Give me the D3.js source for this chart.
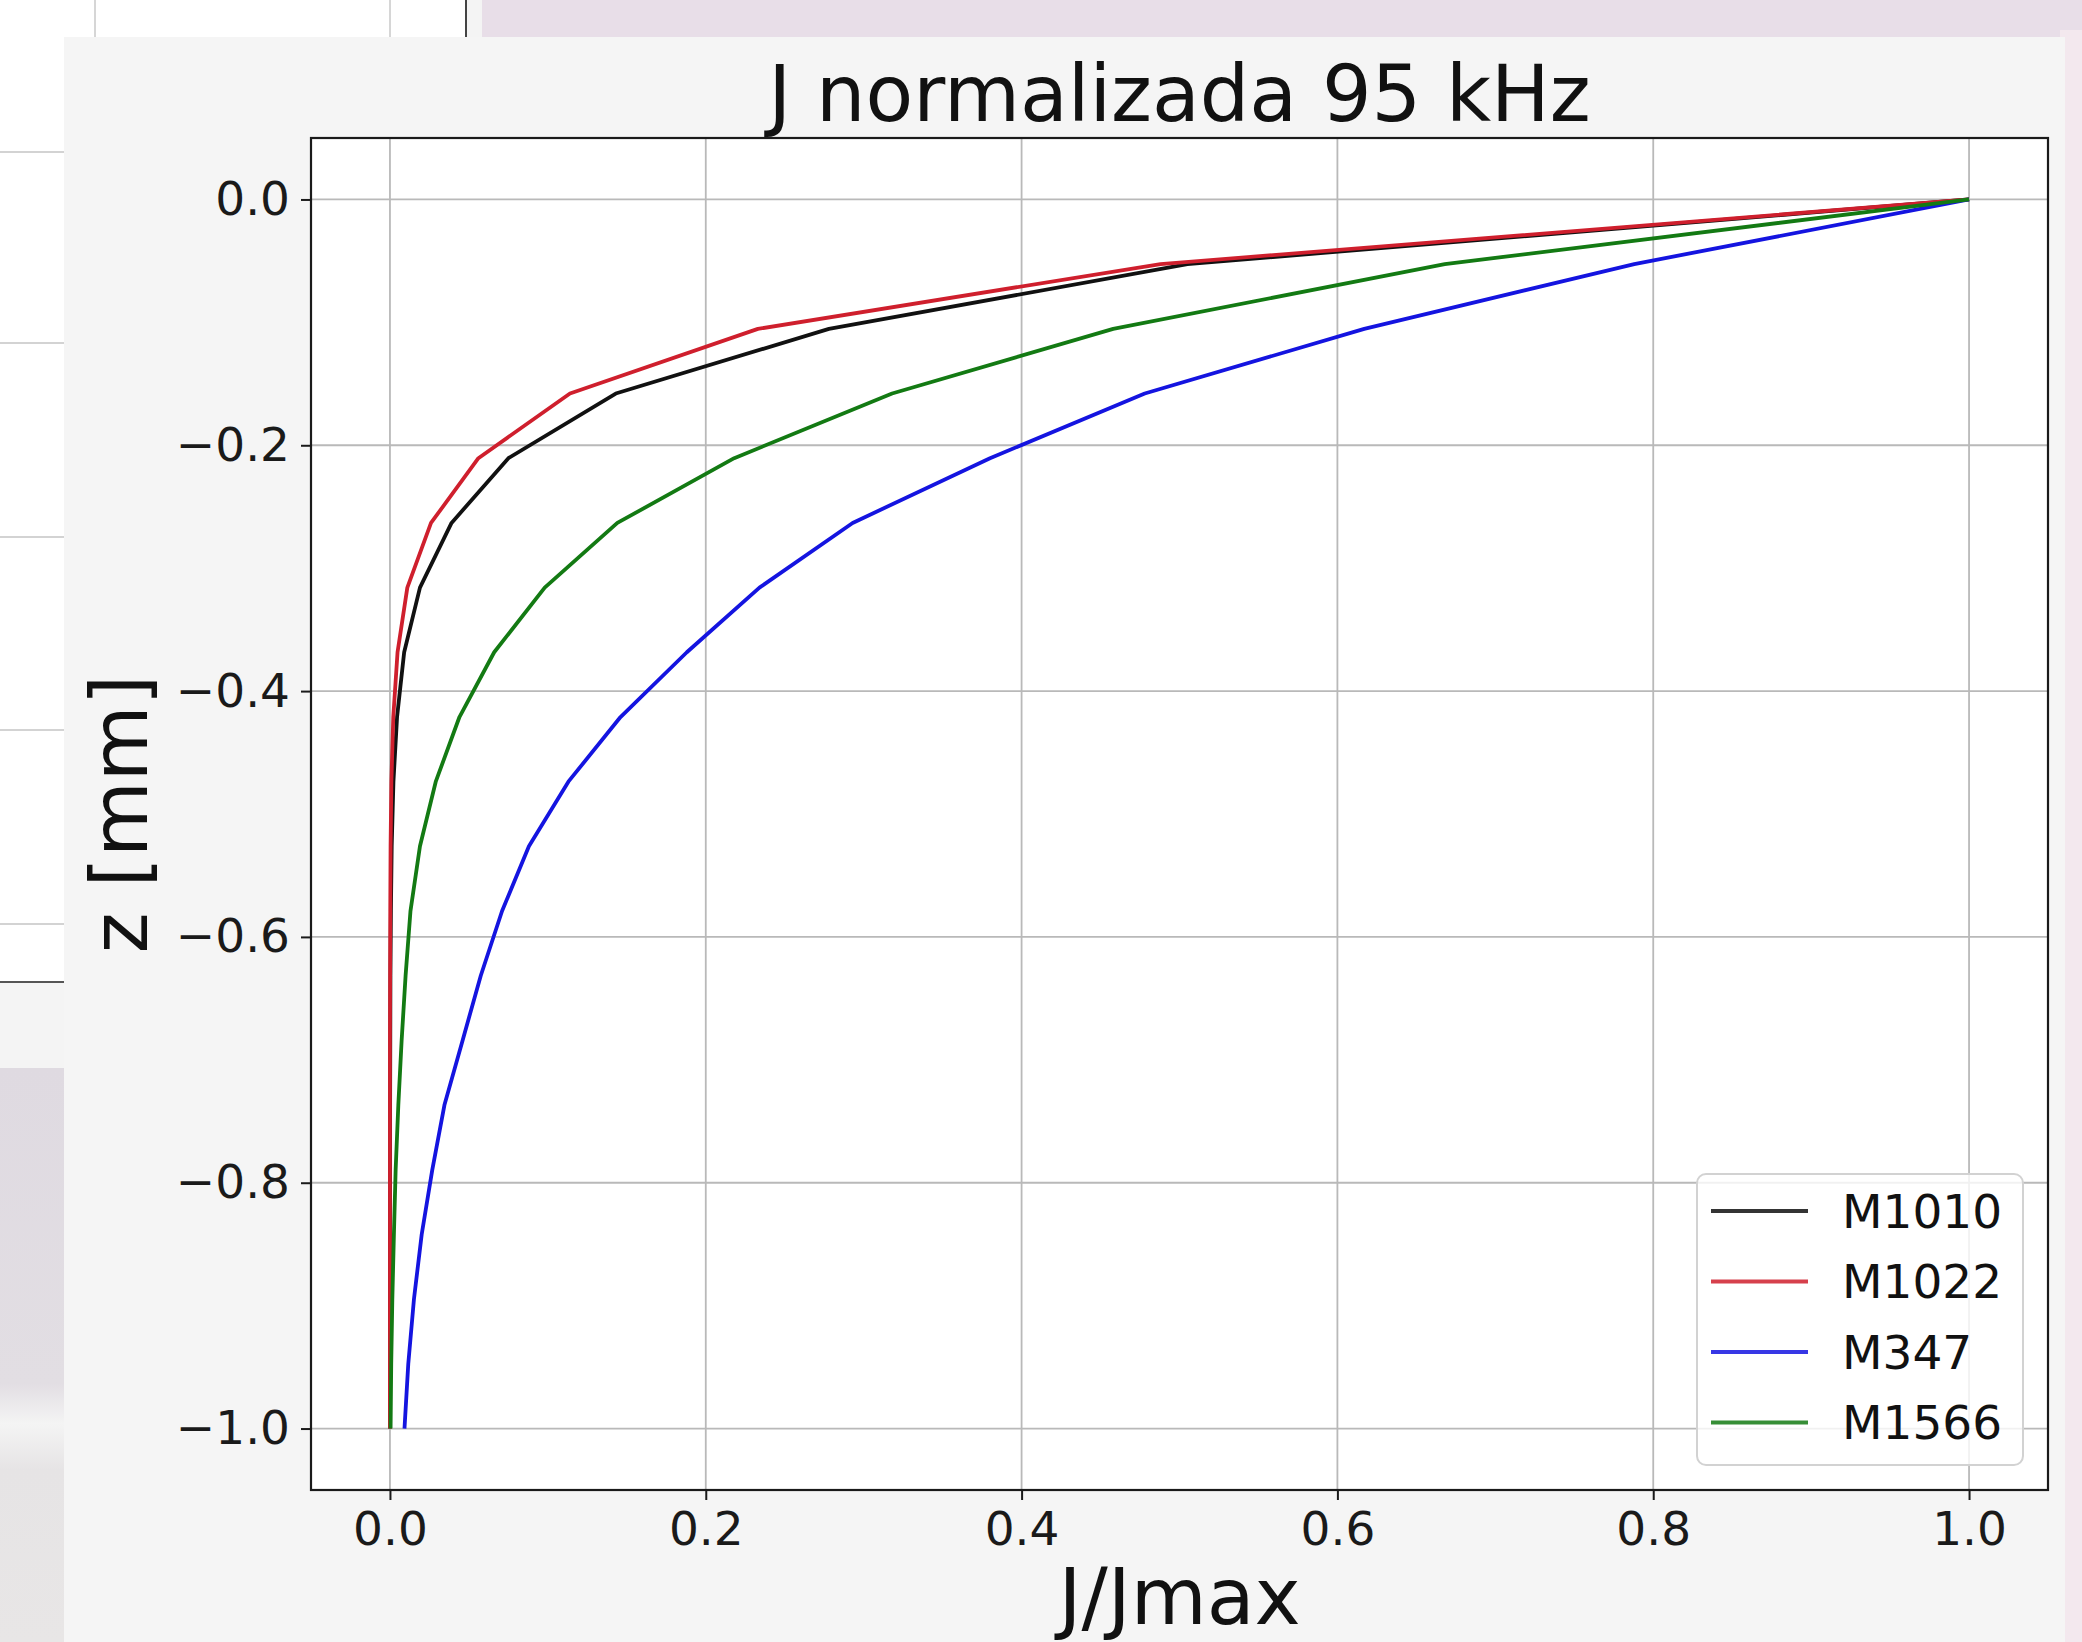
<!DOCTYPE html>
<html>
<head>
<meta charset="utf-8">
<script src="https://cdn.jsdelivr.net/npm/d3@7"></script>
<style>
  html, body { margin: 0; padding: 0; background: #e8dee8; }
  svg { display: block; }
</style>
</head>
<body>
<svg id="chart" width="2082" height="1642"></svg>
<script>
// depth samples (mm) and normalised current density per material
const zDepth = [0, -0.0526, -0.1053, -0.1579, -0.2105, -0.2632, -0.3158, -0.3684, -0.4211, -0.4737,
  -0.5263, -0.5789, -0.6316, -0.6842, -0.7368, -0.7895, -0.8421, -0.8947, -0.9474, -1.0];
const jM1010 = [1, 0.505, 0.278, 0.143, 0.075, 0.039, 0.019, 0.009, 0.0045, 0.0022,
  0.0011, 0.0006, 0.0003, 0.0002, 0.0001, 0.0001, 0, 0, 0, 0];
const jM1022 = [1, 0.488, 0.233, 0.114, 0.056, 0.026, 0.011, 0.0048, 0.0021, 0.0009,
  0.0004, 0.0002, 0.0001, 0, 0, 0, 0, 0, 0, 0];
const jM347 = [1, 0.788, 0.617, 0.478, 0.38, 0.293, 0.234, 0.188, 0.146, 0.113,
  0.088, 0.071, 0.0575, 0.046, 0.0345, 0.0268, 0.0201, 0.0152, 0.0116, 0.0092];
const jM1566 = [1, 0.668, 0.458, 0.318, 0.218, 0.144, 0.098, 0.066, 0.044, 0.029,
  0.019, 0.013, 0.0099, 0.0074, 0.0053, 0.0036, 0.0025, 0.0015, 0.0008, 0.0004];

const seriesNames = ["M1010", "M1022", "M347", "M1566"];
const seriesColors = ["#111111", "#cf1f2d", "#1414e0", "#137a13"];
const seriesValues = [jM1010, jM1022, jM347, jM1566];

const xTicks = [0.0, 0.2, 0.4, 0.6, 0.8, 1.0];
const yTicks = [0.0, -0.2, -0.4, -0.6, -0.8, -1.0];
const titleText = "J normalizada 95 kHz";
const xLabel = "J/Jmax";
const yLabel = "z [mm]";

const FONT = "DejaVu Sans, Verdana, sans-serif";

function drawBackdrop(svg) {
  // bits of the screenshot around the figure
  svg.append("rect").attr("x", 0).attr("y", 0).attr("width", 2082).attr("height", 1642).attr("fill", "#e8dee8");
  svg.append("rect").attr("x", 2060).attr("y", 30).attr("width", 22).attr("height", 1612).attr("fill", "#f3e8ee");
  svg.append("rect").attr("x", 0).attr("y", 0).attr("width", 482).attr("height", 1068).attr("fill", "#f4f4f4");
  svg.append("rect").attr("x", 0).attr("y", 0).attr("width", 466).attr("height", 982).attr("fill", "#ffffff");

  const grad = svg.append("defs").append("linearGradient")
    .attr("id", "leftfade").attr("x1", 0).attr("x2", 0).attr("y1", 0).attr("y2", 1);
  grad.append("stop").attr("offset", "0%").attr("stop-color", "#dfdae1");
  grad.append("stop").attr("offset", "55%").attr("stop-color", "#e2dee3");
  grad.append("stop").attr("offset", "62%").attr("stop-color", "#f4f4f4");
  grad.append("stop").attr("offset", "70%").attr("stop-color", "#e6e4e5");
  grad.append("stop").attr("offset", "100%").attr("stop-color", "#e8e6e6");
  svg.append("rect").attr("x", 0).attr("y", 1068).attr("width", 70).attr("height", 574).attr("fill", "url(#leftfade)");

  const hLines = [152, 343, 537, 730, 924];
  svg.append("g").selectAll("line").data(hLines).join("line")
    .attr("x1", 0).attr("x2", 70).attr("y1", (d) => d).attr("y2", (d) => d)
    .attr("stroke", "#c4c4c4").attr("stroke-width", 1.5);
  svg.append("line").attr("x1", 0).attr("x2", 70).attr("y1", 982).attr("y2", 982)
    .attr("stroke", "#555555").attr("stroke-width", 2);

  const vLines = [95, 390];
  svg.append("g").selectAll("line").data(vLines).join("line")
    .attr("x1", (d) => d).attr("x2", (d) => d).attr("y1", 0).attr("y2", 40)
    .attr("stroke", "#c8c8c8").attr("stroke-width", 1.5);
  svg.append("line").attr("x1", 466).attr("x2", 466).attr("y1", 0).attr("y2", 40)
    .attr("stroke", "#444444").attr("stroke-width", 2);

  // the figure canvas itself
  svg.append("rect").attr("x", 64).attr("y", 37).attr("width", 2001).attr("height", 1605).attr("fill", "#f5f5f5");
}

function drawChart() {
  const svg = d3.select("#chart");
  drawBackdrop(svg);

  const plot = { left: 311, right: 2048, top: 138, bottom: 1490 };

  const xScale = d3.scaleLinear().domain([-0.05, 1.05]).range([plot.left, plot.right]);
  const yScale = d3.scaleLinear().domain([-1.05, 0.05]).range([plot.bottom, plot.top]);

  svg.append("rect")
    .attr("x", plot.left).attr("y", plot.top)
    .attr("width", plot.right - plot.left).attr("height", plot.bottom - plot.top)
    .attr("fill", "#ffffff");

  // grid
  svg.append("g").selectAll("line").data(xTicks).join("line")
    .attr("x1", (d) => xScale(d)).attr("x2", (d) => xScale(d))
    .attr("y1", plot.top).attr("y2", plot.bottom)
    .attr("stroke", "#b9b9b9").attr("stroke-width", 1.8);
  svg.append("g").selectAll("line").data(yTicks).join("line")
    .attr("x1", plot.left).attr("x2", plot.right)
    .attr("y1", (d) => yScale(d)).attr("y2", (d) => yScale(d))
    .attr("stroke", "#b9b9b9").attr("stroke-width", 1.8);

  // curves
  const line = d3.line()
    .x((d) => xScale(d[0]))
    .y((d) => yScale(d[1]));

  seriesValues.forEach((vals, i) => {
    const pts = vals.map((v, k) => [v, zDepth[k]]);
    svg.append("path")
      .datum(pts)
      .attr("fill", "none")
      .attr("stroke", seriesColors[i])
      .attr("stroke-width", 3.8)
      .attr("stroke-linejoin", "round")
      .attr("d", line);
  });

  // spines
  svg.append("rect")
    .attr("x", plot.left).attr("y", plot.top)
    .attr("width", plot.right - plot.left).attr("height", plot.bottom - plot.top)
    .attr("fill", "none").attr("stroke", "#1a1a1a").attr("stroke-width", 2.2);

  const fmt = d3.format(".1f");

  const xAxis = svg.append("g")
    .attr("transform", `translate(0,${plot.bottom})`)
    .call(d3.axisBottom(xScale).tickValues(xTicks).tickFormat(fmt).tickSize(10).tickSizeOuter(0).tickPadding(12));
  xAxis.select(".domain").remove();
  xAxis.selectAll("line").attr("stroke", "#1a1a1a").attr("stroke-width", 2);
  xAxis.selectAll("text").attr("font-family", FONT).attr("font-size", 47).attr("fill", "#1a1a1a");

  const yAxis = svg.append("g")
    .attr("transform", `translate(${plot.left},0)`)
    .call(d3.axisLeft(yScale).tickValues(yTicks).tickFormat(fmt).tickSize(10).tickSizeOuter(0).tickPadding(11));
  yAxis.select(".domain").remove();
  yAxis.selectAll("line").attr("stroke", "#1a1a1a").attr("stroke-width", 2);
  yAxis.selectAll("text").attr("font-family", FONT).attr("font-size", 47).attr("fill", "#1a1a1a");

  // title and axis labels
  svg.append("text")
    .attr("x", (plot.left + plot.right) / 2).attr("y", 121)
    .attr("text-anchor", "middle")
    .attr("font-family", FONT).attr("font-size", 78).attr("fill", "#111111")
    .text(titleText);

  svg.append("text")
    .attr("x", (plot.left + plot.right) / 2).attr("y", 1624)
    .attr("text-anchor", "middle")
    .attr("font-family", FONT).attr("font-size", 78).attr("fill", "#111111")
    .text(xLabel);

  const yMid = (plot.top + plot.bottom) / 2;
  svg.append("text")
    .attr("x", 147).attr("y", yMid)
    .attr("text-anchor", "middle")
    .attr("transform", `rotate(-90, 147, ${yMid})`)
    .attr("font-family", FONT).attr("font-size", 78).attr("fill", "#111111")
    .text(yLabel);

  // legend
  const legend = svg.append("g").attr("transform", "translate(1697,1174)");
  legend.append("rect")
    .attr("x", 0).attr("y", 0).attr("width", 326).attr("height", 291)
    .attr("rx", 9).attr("ry", 9)
    .attr("fill", "#ffffff").attr("fill-opacity", 0.8)
    .attr("stroke", "#d2d2d2").attr("stroke-width", 2);

  const rowY = (i) => 37 + i * 70.5;
  seriesNames.forEach((name, i) => {
    legend.append("line")
      .attr("x1", 14).attr("x2", 111)
      .attr("y1", rowY(i)).attr("y2", rowY(i))
      .attr("stroke", seriesColors[i]).attr("stroke-width", 3.8).attr("stroke-opacity", 0.85);
    legend.append("text")
      .attr("x", 145).attr("y", rowY(i)).attr("dy", "0.36em")
      .attr("font-family", FONT).attr("font-size", 47).attr("fill", "#111111")
      .text(name);
  });
}

drawChart();
</script>
</body>
</html>
